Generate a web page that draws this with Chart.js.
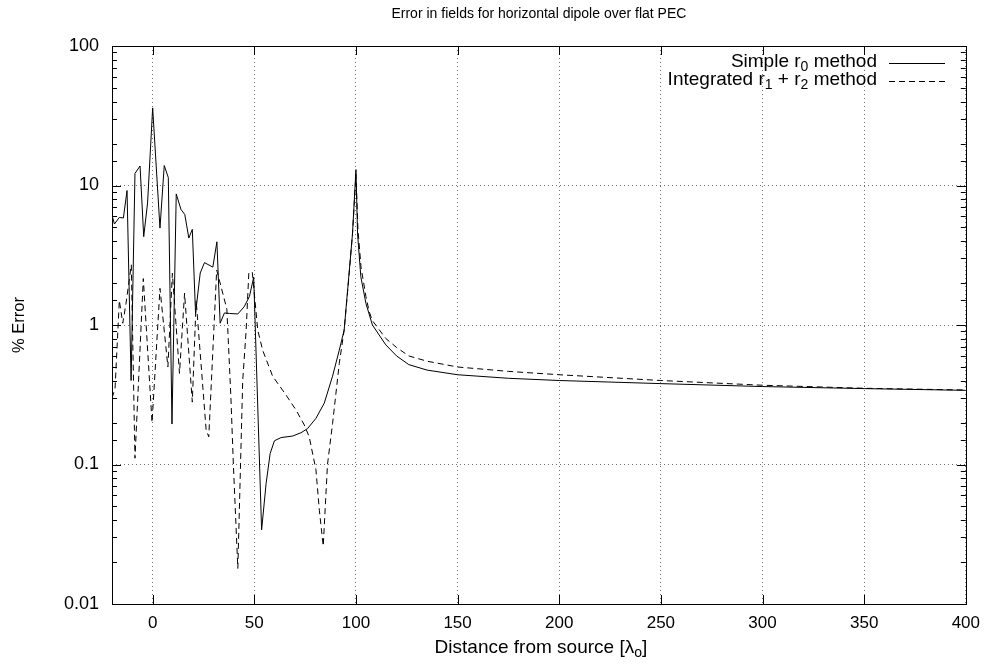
<!DOCTYPE html>
<html>
<head>
<meta charset="utf-8">
<title>Error in fields for horizontal dipole over flat PEC</title>
<script src="https://cdn.jsdelivr.net/npm/chart.js@4.4.1/dist/chart.umd.min.js"></script>
<style>
  body { margin: 0; background: #fff; }
  #wrap { width: 989px; height: 666px; }
</style>
</head>
<body>
<div id="wrap"><canvas id="errChart" width="989" height="666"></canvas></div>
<script>
// --- data (x in wavelengths, y in % error) ---
const simpleX = [-20, -18.8, -16.4, -14.4, -12.6, -10.6, -8.7, -6.2, -4.4, -2.5, 0, 3.6, 5.7, 7.7, 9.5,
  11.6, 13.9, 15.8, 17.8, 19.5, 21.1, 23.4, 25.5, 29.6, 31.6, 33.2, 35.3, 37.8, 41.9, 45, 47.6, 49.7,
  53.6, 55.8, 57.8, 59.9, 63.2, 68.9, 73, 76.2, 80.3, 84.4, 88.5, 91.8, 94.2, 95.9, 98.3, 100,
  100.8, 102.4, 104.9, 108.1, 114.7, 120, 126, 135, 150, 175, 200, 250, 300, 350, 400];
const simpleY = [6.1, 5.3, 5.9, 5.85, 9.2, 0.40, 12.2, 13.8, 4.3, 7.5, 36, 4.95, 13.9, 11.4, 0.195,
  8.7, 6.75, 6.2, 4.2, 4.85, 1.21, 2.36, 2.8, 2.6, 3.95, 1.03, 1.22, 1.21, 1.2, 1.35, 1.6, 2.2,
  0.034, 0.073, 0.12, 0.148, 0.156, 0.16, 0.169, 0.181, 0.214, 0.275, 0.43, 0.66, 0.92, 1.78, 4.5, 13,
  4.5, 2.22, 1.43, 1.0, 0.72, 0.6, 0.52, 0.475, 0.44, 0.415, 0.40, 0.38, 0.362, 0.35, 0.34];

const integX = [-20, -18.5, -16.4, -14.7, -13.1, -10.5, -8.7, -4.6, -0.3, 3.6, 7.5, 9.7, 13.2, 15.7,
  19.5, 21.4, 26.3, 27.6, 31.5, 36.5, 38.5, 39.7, 41.9, 44.3, 46, 47.3, 49, 51.7, 54.1, 59, 65.6,
  70.5, 74.6, 77, 80.3, 82, 83.9, 86, 88.5, 91.8, 94.2, 96, 98.3, 100, 101, 102.5, 104.9, 106.5,
  108, 114.7, 120, 126, 135, 150, 175, 200, 250, 300, 350, 400];
const integY = [0.30, 0.35, 1.5, 1.03, 1.43, 2.7, 0.111, 2.15, 0.2, 1.83, 0.5, 2.35, 0.45, 1.69,
  0.28, 1.5, 0.177, 0.158, 2.48, 1.3, 0.3, 0.1, 0.018, 0.4, 0.92, 2.36, 2.4, 0.92, 0.66, 0.43, 0.315,
  0.246, 0.192, 0.158, 0.092, 0.047, 0.026, 0.1, 0.197, 0.53, 0.92, 1.8, 4.5, 12, 4.8, 2.6, 1.6, 1.25,
  1.08, 0.8, 0.69, 0.6, 0.55, 0.5, 0.465, 0.44, 0.4, 0.37, 0.352, 0.342];

const yTickLabels = ["0.01", "0.1", "1", "10", "100"];
const xTickStep = 50;

const FONT = "'Liberation Sans', Arial, sans-serif";
const TICK_SIZE = 17;

function toPoints(xs, ys) {
  return xs.map((x, i) => ({ x: x, y: ys[i] }));
}

function isDecade(v) {
  const l = Math.log10(v);
  return Math.abs(l - Math.round(l)) < 1e-6;
}

// text with subscripts, parts = [[text, isSub], ...]
function drawRich(ctx, parts, x, y, align, size) {
  const big = size + "px " + FONT;
  const small = Math.round(size * 0.75) + "px " + FONT;
  let total = 0;
  parts.forEach(p => {
    ctx.font = p[1] ? small : big;
    total += ctx.measureText(p[0]).width;
  });
  let cx = x;
  if (align === "right") cx = x - total;
  else if (align === "center") cx = x - total / 2;
  ctx.textAlign = "left";
  ctx.textBaseline = "alphabetic";
  parts.forEach(p => {
    ctx.font = p[1] ? small : big;
    ctx.fillText(p[0], cx, p[1] ? y + 4 : y);
    cx += ctx.measureText(p[0]).width;
  });
}

// gnuplot look: box border, inward ticks, titles and legend
const gnuplotDeco = {
  id: "gnuplotDeco",
  afterDatasetsDraw(chart) {
    const ctx = chart.ctx;
    const a = chart.chartArea;
    const xs = chart.scales.x;
    const ys = chart.scales.y;
    ctx.save();
    ctx.strokeStyle = "#000";
    ctx.lineWidth = 1;
    ctx.setLineDash([]);

    ctx.beginPath();
    xs.ticks.forEach(t => {
      const px = Math.round(xs.getPixelForValue(t.value)) + 0.5;
      ctx.moveTo(px, a.bottom); ctx.lineTo(px, a.bottom - 9);
      ctx.moveTo(px, a.top); ctx.lineTo(px, a.top + 9);
    });
    ys.ticks.forEach(t => {
      const py = Math.round(ys.getPixelForValue(t.value)) + 0.5;
      const len = isDecade(t.value) ? 9 : 5;
      ctx.moveTo(a.left, py); ctx.lineTo(a.left + len, py);
      ctx.moveTo(a.right, py); ctx.lineTo(a.right - len, py);
    });
    ctx.stroke();

    ctx.strokeRect(Math.round(a.left) + 0.5, Math.round(a.top) + 0.5,
      Math.round(a.right - a.left), Math.round(a.bottom - a.top));

    ctx.fillStyle = "#000";
    // title
    drawRich(ctx, [["Error in fields for horizontal dipole over flat PEC", false]],
      (a.left + a.right) / 2, 18, "center", 14);
    // x axis title
    drawRich(ctx, [["Distance from source [\u03bb", false], ["o", true], ["]", false]],
      (a.left + a.right) / 2 + 2, 653, "center", 19);
    // y axis title
    ctx.save();
    ctx.translate(24, (a.top + a.bottom) / 2);
    ctx.rotate(-Math.PI / 2);
    drawRich(ctx, [["% Error", false]], 0, 0, "center", 16.5);
    ctx.restore();

    // legend
    drawRich(ctx, [["Simple r", false], ["0", true], [" method", false]], 877, 67, "right", 19);
    drawRich(ctx, [["Integrated r", false], ["1", true], [" + r", false], ["2", true], [" method", false]],
      877, 85, "right", 19);
    ctx.beginPath();
    ctx.moveTo(889, 63.5); ctx.lineTo(945, 63.5);
    ctx.stroke();
    ctx.setLineDash([6, 4]);
    ctx.beginPath();
    ctx.moveTo(889, 81.5); ctx.lineTo(945, 81.5);
    ctx.stroke();
    ctx.restore();
  }
};

const ctx = document.getElementById("errChart").getContext("2d");
const myChart = new Chart(ctx, {
  type: "line",
  data: {
    datasets: [{
      label: "Simple r0 method",
      data: toPoints(simpleX, simpleY),
      borderColor: "#000",
      borderWidth: 1,
      pointRadius: 0,
      tension: 0,
      fill: false
    }, {
      label: "Integrated r1 + r2 method",
      data: toPoints(integX, integY),
      borderColor: "#000",
      borderWidth: 1,
      borderDash: [6, 4],
      pointRadius: 0,
      tension: 0,
      fill: false
    }]
  },
  options: {
    responsive: false,
    animation: false,
    devicePixelRatio: 1,
    layout: { padding: { left: 0, top: 46, right: 21, bottom: 0 } },
    plugins: {
      legend: { display: false },
      title: { display: false },
      tooltip: { enabled: false }
    },
    scales: {
      x: {
        type: "linear",
        min: -20,
        max: 400,
        afterFit: s => { s.height = 62; },
        ticks: {
          stepSize: xTickStep,
          includeBounds: false,
          padding: 9,
          color: "#000",
          font: { family: FONT, size: TICK_SIZE }
        },
        grid: { color: "rgba(0,0,0,0.55)", drawTicks: false, lineWidth: 1 },
        border: { display: false, dash: [1, 3] }
      },
      y: {
        type: "logarithmic",
        min: 0.01,
        max: 100,
        afterFit: s => { s.width = 112; },
        ticks: {
          autoSkip: false,
          padding: 13,
          color: "#000",
          font: { family: FONT, size: 18 },
          callback: v => isDecade(v) ? yTickLabels[Math.round(Math.log10(v)) + 2] : ""
        },
        grid: {
          color: c => (c.tick && isDecade(c.tick.value)) ? "rgba(0,0,0,0.55)" : "rgba(0,0,0,0)",
          drawTicks: false,
          lineWidth: 1
        },
        border: { display: false, dash: [1, 3] }
      }
    }
  },
  plugins: [gnuplotDeco]
});
</script>
</body>
</html>
